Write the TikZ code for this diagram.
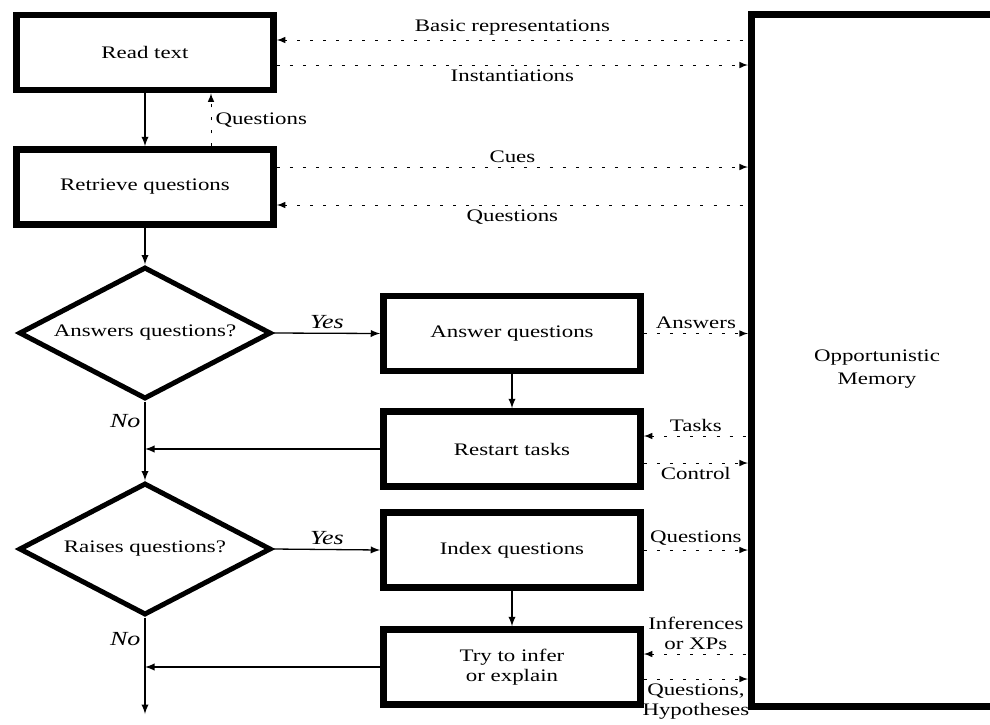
\documentclass[tikz,border=0pt]{standalone}
\usepackage{fontspec}
\setmainfont{Liberation Serif}[FakeStretch=1.3]
\usetikzlibrary{shapes,arrows,positioning}
\tikzstyle{task} = [draw,line width=3.25pt,rectangle,minimum width=128.5pt,minimum height=37.5pt,inner sep=0,align=center]
\tikzstyle{test} = [draw,line width=2.5pt,diamond,aspect=1.9,minimum width=126pt,minimum height=66pt,inner sep=0]
\tikzstyle{memory} = [draw,line width=3.5pt,rectangle,minimum width=125.5pt,minimum height=346pt]
\tikzstyle{flow} = [->,>=latex,line width=0.65pt]
\tikzstyle{cue} = [->,>=latex,line width=0.5pt,dash pattern=on 1.5pt off 5pt]
\tikzstyle{tag} = [inner sep=2pt,align=center]
\tikzstyle{branch} = [tag,font=\itshape]

\begin{document}
\begin{tikzpicture}[x=0.5pt,y=-0.5pt,font=\fontsize{8.8}{10}\selectfont]
  \clip (0,0) rectangle (990,724);
  % left column
  \node[task] (read) at (145,52.5) {Read text};
  \node[task] (retrieve) at (145,187) {Retrieve questions};
  \node[test] (ansq) at (145,333) {Answers questions?};
  \node[test] (raiseq) at (145,549) {Raises questions?};
  \coordinate (out) at (145,714);
  % middle column
  \node[task] (answer) at (512,333.5) {Answer questions};
  \node[task] (restart) at (512,449) {Restart tasks};
  \node[task] (index) at (512,550) {Index questions};
  \node[task] (infer) at (512,667) {Try to infer\\or explain};
  % memory
  \node[memory,label={[tag,yshift=-4.5pt]center:Opportunistic\\[1.5pt]Memory}] (mem) at (877,360) {};

  % control flow
  \draw[flow] (read.south) -- (retrieve.north);
  \draw[cue] ([xshift=33pt]retrieve.north) coordinate (q) -- (q |- read.south)
    node[tag,midway,right] {Questions};
  \draw[flow] (retrieve.south) -- (ansq.north);
  \draw[flow] (ansq.east) -- (answer.west) node[branch,midway,above] {Yes};
  \draw[flow] (ansq.south) -- (raiseq.north) node[branch,pos=0.25,left] {No};
  \draw[flow] (answer.south) -- (restart.north);
  \draw[flow] (restart.west) -- (restart.west -| ansq.south);
  \draw[flow] (raiseq.east) -- (index.west) node[branch,midway,above] {Yes};
  \draw[flow] (raiseq.south) -- (out) node[branch,pos=0.22,left] {No};
  \draw[flow] (index.south) -- (infer.north);
  \draw[flow] (infer.west) -- (infer.west -| raiseq.south);

  % memory traffic
  \draw[cue,<-] ([yshift=6.25pt]read.east) coordinate (m1) -- (m1 -| mem.west)
    node[tag,midway,above] {Basic representations};
  \draw[cue] ([yshift=-6.25pt]read.east) coordinate (m2) -- (m2 -| mem.west)
    node[tag,midway,below] {Instantiations};
  \draw[cue] ([yshift=10pt]retrieve.east) coordinate (m3) -- (m3 -| mem.west)
    node[tag,midway,above] {Cues};
  \draw[cue,<-] ([yshift=-9pt]retrieve.east) coordinate (m4) -- (m4 -| mem.west)
    node[tag,midway,below] {Questions};
  \draw[cue] (answer.east) -- (answer.east -| mem.west)
    node[tag,midway,above] {Answers};
  \draw[cue,<-] ([yshift=6.5pt]restart.east) coordinate (m5) -- (m5 -| mem.west)
    node[tag,midway,above] {Tasks};
  \draw[cue] ([yshift=-7pt]restart.east) coordinate (m6) -- (m6 -| mem.west)
    node[tag,midway,below] {Control};
  \draw[cue] (index.east) -- (index.east -| mem.west)
    node[tag,midway,above] {Questions};
  \draw[cue,<-] ([yshift=6.5pt]infer.east) coordinate (m7) -- (m7 -| mem.west)
    node[tag,midway,above] {Inferences\\or XPs};
  \draw[cue] ([yshift=-6pt]infer.east) coordinate (m8) -- (m8 -| mem.west)
    node[tag,midway,below] {Questions,\\Hypotheses};
\end{tikzpicture}
\end{document}
